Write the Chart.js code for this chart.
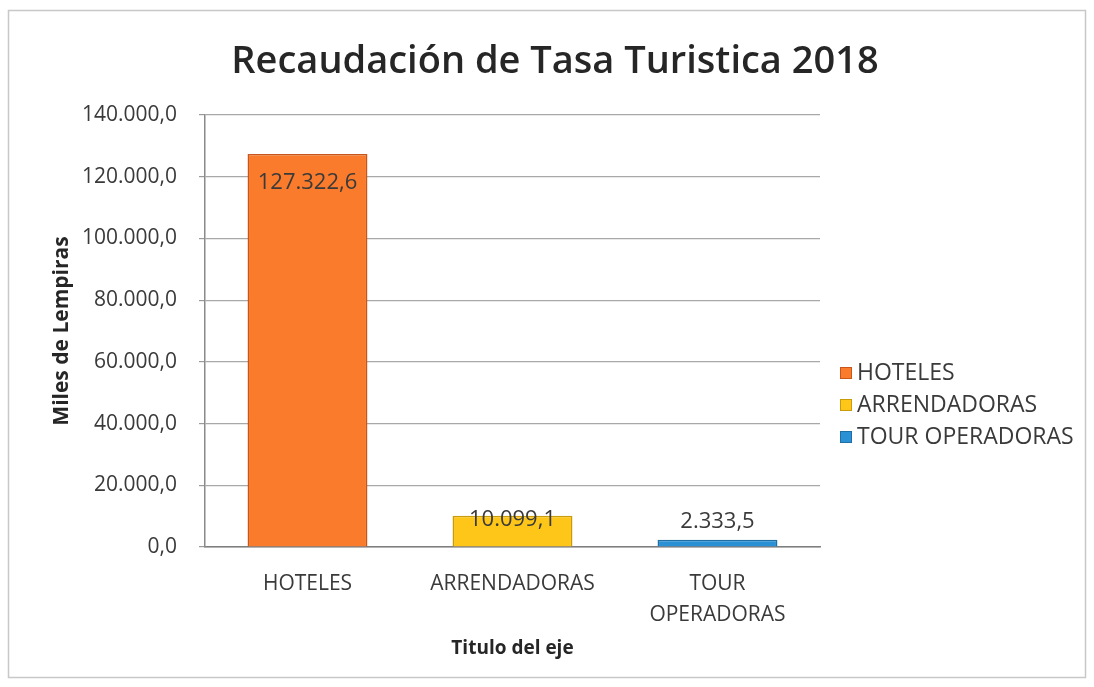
<!DOCTYPE html>
<html>
<head>
<meta charset="utf-8">
<script src="https://cdn.jsdelivr.net/npm/chart.js@4/dist/chart.umd.min.js"></script>
<style>
    html, body { margin: 0; padding: 0; background: #ffffff; }
    #wrap { width: 1094px; height: 687px; position: relative; }
</style>
</head>
<body>
<div id="wrap"><canvas id="tasa-chart"></canvas></div>
<script>
const chartTitle = 'Recaudación de Tasa Turistica 2018';
const categories = [['HOTELES'], ['ARRENDADORAS'], ['TOUR', 'OPERADORAS']];
const legendNames = ['HOTELES', 'ARRENDADORAS', 'TOUR OPERADORAS'];
const recaudacion = [127322.6, 10099.1, 2333.5];
const yTicks = [0, 20000, 40000, 60000, 80000, 100000, 120000, 140000];

const barPalette = {
    fill: ['#fa7b2c', '#fdc619', '#2b91d5'],
    border: ['#c8561a', '#c99a0a', '#1f6fa5'],
};

const fontFamily = "'Open Sans', 'Noto Sans', sans-serif";
const textColor = '#3a3a3a';

function formatMiles(value) {
    const fixed = Math.abs(value).toFixed(1);
    const [whole, dec] = fixed.split('.');
    const grouped = whole.replace(/\B(?=(\d{3})+(?!\d))/g, '.');
    return (value < 0 ? '-' : '') + grouped + ',' + dec;
}

// white page, thin frame and the title (centred on the whole frame, not the plot)
const frameAndTitle = {
    id: 'frameAndTitle',
    beforeDraw(chart) {
        const { ctx } = chart;
        ctx.save();
        ctx.fillStyle = '#ffffff';
        ctx.fillRect(0, 0, chart.width, chart.height);
        ctx.strokeStyle = '#c8c8c8';
        ctx.lineWidth = 1.5;
        ctx.strokeRect(8.5, 10.5, chart.width - 17, chart.height - 20);
        ctx.font = `600 38px ${fontFamily}`;
        ctx.fillStyle = '#262626';
        ctx.textAlign = 'center';
        ctx.textBaseline = 'middle';
        ctx.fillText(chartTitle, 555, 62);
        ctx.restore();
    },
};

const valueLabels = {
    id: 'valueLabels',
    afterDatasetsDraw(chart) {
        const { ctx } = chart;
        const meta = chart.getDatasetMeta(0);
        ctx.save();
        ctx.font = `22px ${fontFamily}`;
        ctx.fillStyle = textColor;
        ctx.textAlign = 'center';
        ctx.textBaseline = 'middle';
        meta.data.forEach((bar, i) => {
            const h = bar.base - bar.y;
            let cy;
            if (h > 100) {
                cy = bar.y + 29;
            } else if (h > 20) {
                cy = bar.y + 4;
            } else {
                cy = bar.y - 18;
            }
            ctx.fillText(formatMiles(recaudacion[i]), bar.x, cy);
        });
        ctx.restore();
    },
};

// legend drawn by hand so it can sit where Excel put it
const sideLegend = {
    id: 'sideLegend',
    afterDraw(chart) {
        const { ctx, chartArea } = chart;
        const x = chartArea.right + 20;
        const rowGap = 32;
        const midY = 405;
        ctx.save();
        ctx.font = `23px ${fontFamily}`;
        ctx.textBaseline = 'middle';
        ctx.textAlign = 'left';
        legendNames.forEach((name, i) => {
            const y = midY + (i - 1) * rowGap;
            ctx.fillStyle = barPalette.fill[i];
            ctx.fillRect(x, y - 6, 12, 12);
            ctx.strokeStyle = barPalette.border[i];
            ctx.lineWidth = 1;
            ctx.strokeRect(x + 0.5, y - 5.5, 11, 11);
            ctx.fillStyle = textColor;
            ctx.fillText(name, x + 17, y);
        });
        ctx.restore();
    },
};

new Chart(document.getElementById('tasa-chart'), {
    type: 'bar',
    data: {
        labels: categories,
        datasets: [
            {
                label: 'Recaudación',
                data: recaudacion,
                backgroundColor: barPalette.fill,
                borderColor: barPalette.border,
                borderWidth: 1.5,
                categoryPercentage: 1,
                barPercentage: 0.585,
            },
        ],
    },
    options: {
        responsive: true,
        maintainAspectRatio: false,
        animation: false,
        layout: {
            padding: { left: 49, right: 274, top: 115, bottom: 27 },
        },
        plugins: {
            title: { display: false },
            legend: { display: false },
            tooltip: { enabled: false },
        },
        scales: {
            x: {
                afterFit: (scale) => {
                    scale.height = 113;
                },
                grid: { display: false },
                border: { color: '#7f7f7f', width: 1.5 },
                ticks: {
                    color: textColor,
                    font: { family: fontFamily, size: 21, lineHeight: 1.45 },
                    padding: 14,
                    maxRotation: 0,
                },
                title: {
                    display: true,
                    text: 'Titulo del eje',
                    color: '#262626',
                    font: { family: fontFamily, size: 19, weight: '700' },
                    padding: { top: 0, bottom: 0 },
                },
            },
            y: {
                min: 0,
                max: 140000,
                afterFit: (scale) => {
                    scale.width = 156;
                },
                afterBuildTicks: (axis) => {
                    axis.ticks = yTicks.map((v) => ({ value: v }));
                },
                grid: {
                    color: '#a8a8a8',
                    lineWidth: 1.2,
                    tickLength: 6,
                    tickColor: '#9a9a9a',
                },
                border: { color: '#8a8a8a', width: 1.5 },
                ticks: {
                    color: textColor,
                    font: { family: fontFamily, size: 21 },
                    padding: 22,
                    callback: (v) => formatMiles(v),
                },
                title: {
                    display: true,
                    text: 'Miles de Lempiras',
                    color: '#262626',
                    font: { family: fontFamily, size: 21, weight: '700' },
                    padding: { top: 0, bottom: 6 },
                },
            },
        },
    },
    plugins: [frameAndTitle, valueLabels, sideLegend],
});
</script>
</body>
</html>
